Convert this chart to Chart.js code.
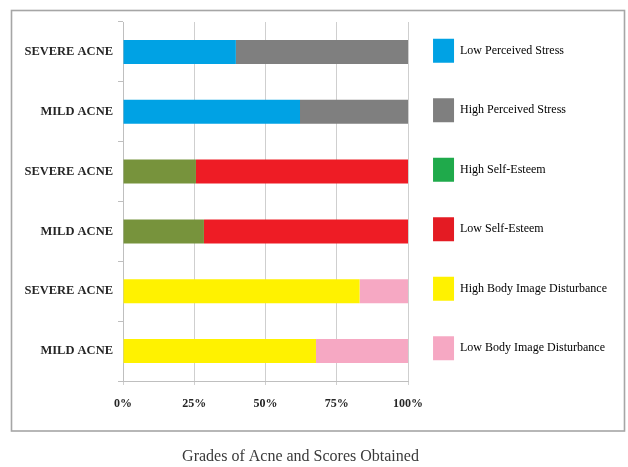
<!DOCTYPE html>
<html>
<head>
<meta charset="utf-8">
<script src="https://cdn.jsdelivr.net/npm/chart.js@4/dist/chart.umd.min.js"></script>
<style>
  html, body { margin: 0; padding: 0; background: #ffffff; }
  #wrap { width: 628px; height: 467px; }
</style>
</head>
<body>
<div id="wrap"><canvas id="c" width="628" height="467"></canvas></div>
<script>
// Rows of the chart, top to bottom
const categories = ['SEVERE ACNE', 'MILD ACNE', 'SEVERE ACNE', 'MILD ACNE', 'SEVERE ACNE', 'MILD ACNE'];

// Share of patients (%) in each group
const lowPerceivedStress      = [39.6, 62.1, null, null, null, null];
const highPerceivedStress     = [60.4, 37.9, null, null, null, null];
const highSelfEsteem          = [null, null, 25.6, 28.4, null, null];
const lowSelfEsteem           = [null, null, 74.4, 71.6, null, null];
const highBodyImageDisturb    = [null, null, null, null, 83.0, 67.7];
const lowBodyImageDisturb     = [null, null, null, null, 17.0, 32.3];

const seriesNames = [
  'Low Perceived Stress',
  'High Perceived Stress',
  'High Self-Esteem',
  'Low Self-Esteem',
  'High Body Image Disturbance',
  'Low Body Image Disturbance'
];
const seriesValues = [
  lowPerceivedStress, highPerceivedStress,
  highSelfEsteem, lowSelfEsteem,
  highBodyImageDisturb, lowBodyImageDisturb
];
const barColors    = ['#00A2E4', '#7F7F7F', '#77933C', '#EE1C25', '#FFF200', '#F6A8C3'];
const legendColors = ['#00A2E4', '#7F7F7F', '#1FAA4B', '#E41B23', '#FFF200', '#F6A8C3'];

const xTicks = [0, 25, 50, 75, 100];
const chartTitle = 'Grades of Acne and Scores Obtained';

const SERIF = "'Liberation Serif', 'Times New Roman', serif";

// Outer frame around the plot and legend
const framePlugin = {
  id: 'frame',
  beforeDraw(chart) {
    const ctx = chart.ctx;
    ctx.save();
    ctx.fillStyle = '#ffffff';
    ctx.fillRect(0, 0, chart.width, chart.height);
    ctx.strokeStyle = '#A6A6A6';
    ctx.lineWidth = 1.6;
    ctx.strokeRect(11.5, 10.5, 613, 420.5);
    ctx.restore();
  }
};

new Chart(document.getElementById('c'), {
  type: 'bar',
  data: {
    labels: categories,
    datasets: seriesValues.map((vals, i) => ({
      label: seriesNames[i],
      data: vals,
      backgroundColor: barColors[i],
      borderWidth: 0,
      xAxisID: 'x',
      yAxisID: 'y',
      barPercentage: 0.4,
      categoryPercentage: 1.0
    }))
  },
  options: {
    indexAxis: 'y',
    responsive: false,
    animation: false,
    devicePixelRatio: 1,
    layout: { padding: { left: -16, right: 11, top: 13.8, bottom: 0 } },
    scales: {
      x: {
        stacked: true,
        min: 0,
        max: 100,
        afterBuildTicks(scale) { scale.ticks = xTicks.map(v => ({ value: v })); },
        afterFit(scale) { scale.height = 30; },
        ticks: {
          padding: 12,
          color: '#262626',
          font: { family: SERIF, size: 12, weight: 'bold' },
          callback: v => v + '%'
        },
        grid: { color: '#CFCFCF', lineWidth: 1, tickLength: 4, drawTicks: true },
        border: { color: '#BFBFBF', width: 1 }
      },
      x2: {
        type: 'linear',
        position: 'top',
        display: true,
        afterFit(scale) { scale.height = 8.2; },
        ticks: { display: false },
        grid: { display: false },
        border: { display: false }
      },
      y: {
        stacked: true,
        afterFit(scale) { scale.width = 139; },
        ticks: {
          padding: 5,
          color: '#262626',
          font: { family: SERIF, size: 12.5, weight: 'bold' }
        },
        grid: { drawOnChartArea: false, drawTicks: true, tickLength: 5, color: '#BFBFBF', offset: true },
        border: { color: '#BFBFBF', width: 1 }
      }
    },
    plugins: {
      legend: {
        position: 'right',
        align: 'start',
        maxWidth: 230,
        labels: {
          boxWidth: 21,
          boxHeight: 24,
          padding: 25,
          color: '#333333',
          font: { family: SERIF, size: 12, lineHeight: '34.5px' },
          generateLabels(chart) {
            return chart.data.datasets.map((ds, i) => ({
              text: [seriesNames[i]],
              fillStyle: legendColors[i],
              strokeStyle: legendColors[i],
              lineWidth: 0,
              hidden: false,
              datasetIndex: i
            }));
          }
        }
      },
      title: {
        display: true,
        position: 'bottom',
        text: chartTitle,
        color: '#3A3A3A',
        font: { family: SERIF, size: 16, weight: 'normal' },
        padding: { top: 35.9, bottom: 0.9 }
      },
      tooltip: { enabled: false }
    }
  },
  plugins: [framePlugin]
});
</script>
</body>
</html>
